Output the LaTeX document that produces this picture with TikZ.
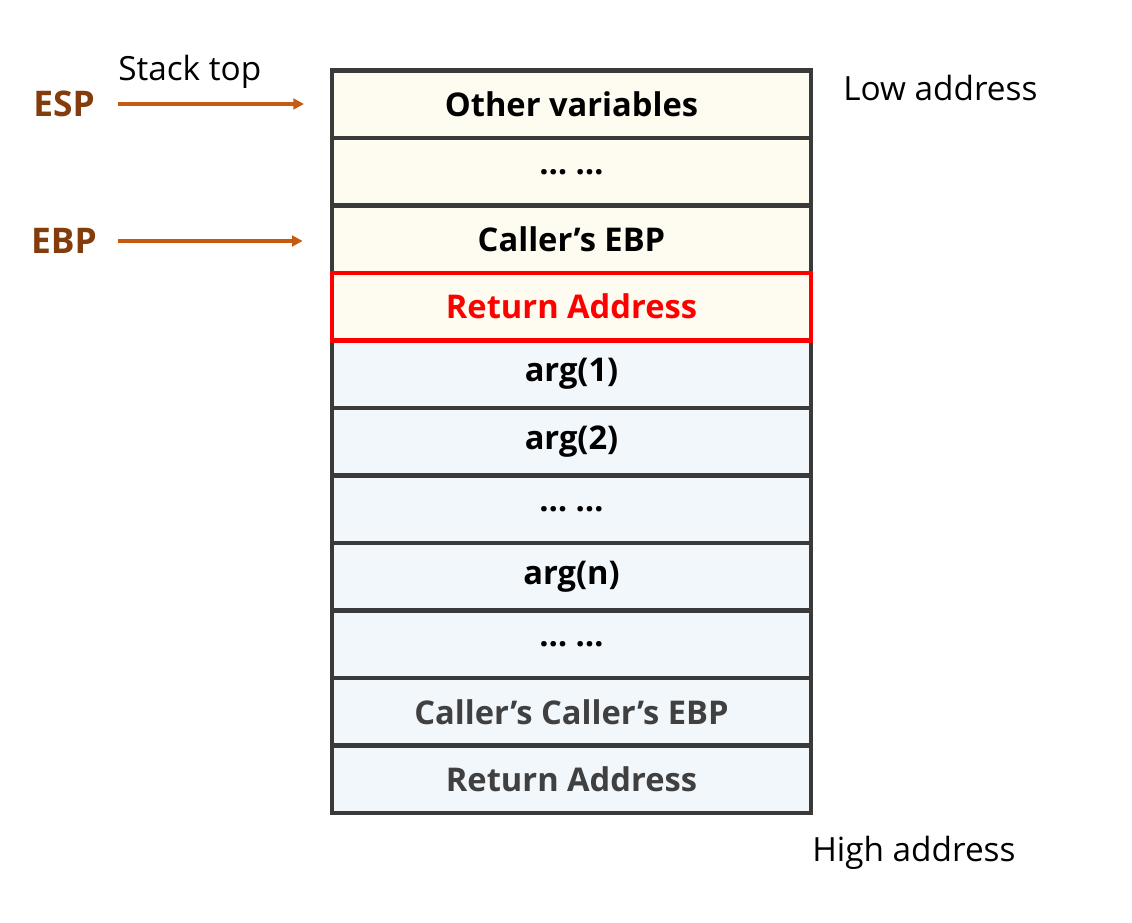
\documentclass[tikz,border=0pt]{standalone}
\usepackage{fontspec}
\setmainfont{Open Sans}
\usetikzlibrary{positioning,arrows.meta}
\definecolor{frame}{RGB}{58,58,58}
\definecolor{cream}{RGB}{254,251,240}
\definecolor{paleblue}{RGB}{242,247,251}
\definecolor{regbrown}{RGB}{132,60,12}
\definecolor{ptrorange}{RGB}{197,90,17}
\definecolor{dimtext}{RGB}{64,64,64}
\begin{document}
\begin{tikzpicture}[
  x=0.75pt, y=-0.75pt,
  node distance=0pt,
  cell/.style={draw=frame, line width=3.2pt, outer sep=0pt, inner sep=0pt, minimum width=359.25pt, minimum height=50.625pt, font=\fontsize{24.5}{28}\selectfont\bfseries},
  frame/.style={cell, fill=cream},
  args/.style={cell, fill=paleblue},
  reg/.style={inner sep=0pt, text=regbrown, font=\fontsize{26.5}{30}\selectfont\bfseries},
  note/.style={inner sep=0pt, anchor=west, font=\fontsize{25}{30}\selectfont},
  ptr/.style={-{Triangle[length=8pt,width=8pt]}, draw=ptrorange, line width=2.6pt, shorten <=18pt, shorten >=20pt}
]
\useasboundingbox (0,0) rectangle (1132,923);

% stack frame of the callee
\node[frame] (vars) at (571.5,104.25) {Other variables};
\node[frame, below=of vars] (gap1) {… …};
\node[frame, below=of gap1] (cebp) {Caller’s EBP};
\node[frame, below=of cebp, text=red] (ret) {Return Address};
% arguments and the caller's frame
\node[args, below=of ret] (arg1) {arg(1)};
\node[args, below=of arg1] (arg2) {arg(2)};
\node[args, below=of arg2] (gap2) {… …};
\node[args, below=of gap2] (argn) {arg(n)};
\node[args, below=of argn] (gap3) {… …};
\node[args, below=of gap3, text=dimtext] (ccebp) {Caller’s Caller’s EBP};
\node[args, below=of ccebp, text=dimtext] (cret) {Return Address};

\draw[red, line width=3.2pt] (ret.north west) rectangle (ret.south east);

% registers
\node[reg, anchor=east] (esp) at (95,104) {ESP};
\node[reg, anchor=east] (ebp) at (97,241) {EBP};
\draw[ptr] ([xshift=-1pt]esp.east) -- ([xshift=-1pt]esp.east -| vars.west);
\draw[ptr] ([xshift=-2pt]ebp.east) -- ([xshift=-2pt]ebp.east -| cebp.west);

\node[note] (stacktop) at (118,72) {Stack top};
\node[note] (low) at (843,88) {Low address};
\node[note] (high) at (812,853) {High address};
\end{tikzpicture}
\end{document}
